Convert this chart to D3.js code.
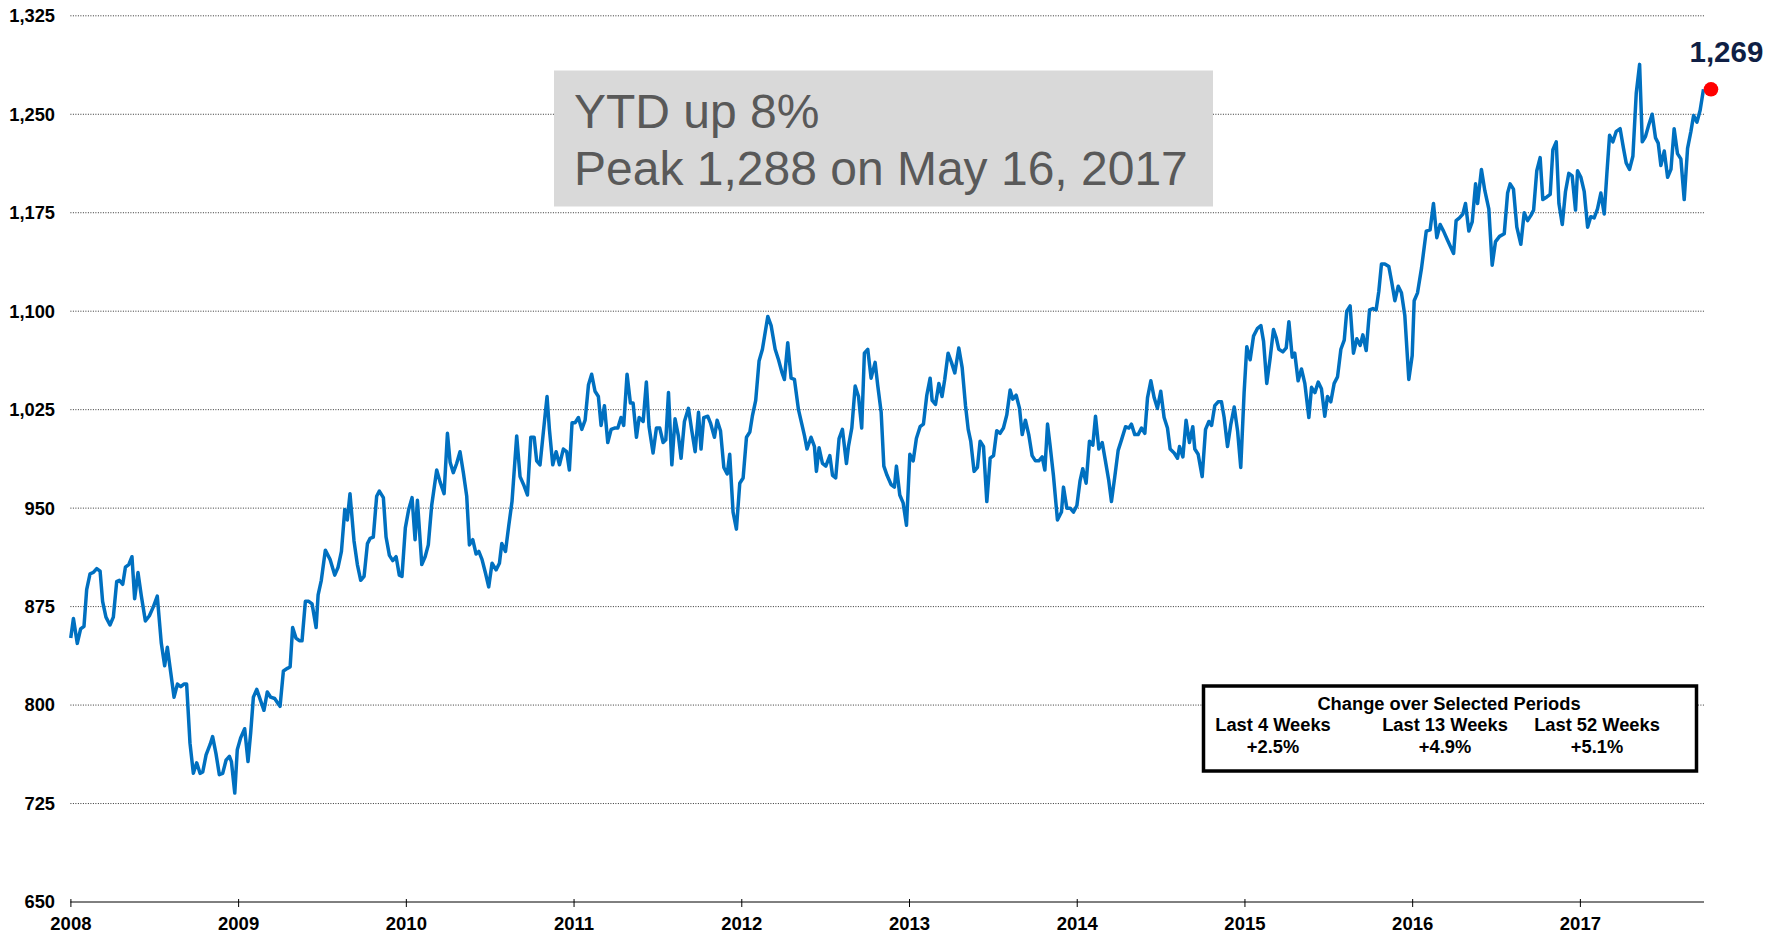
<!DOCTYPE html>
<html><head><meta charset="utf-8">
<script src="https://cdn.jsdelivr.net/npm/d3@7"></script>
<style>body{margin:0;background:#fff}svg{display:block}</style>
</head><body><svg id="c" width="1781" height="935"></svg>
<script>
// years elapsed since the start of 2008 (weekly observations)
const yearOffset = [
0.002,0.018,0.041,0.061,0.081,0.097,0.117,0.137,0.157,0.177,0.192,0.212,0.236,0.256,0.276,0.292,0.312,0.328,0.348,0.367,0.383,0.403,0.423,0.447,0.471,0.495,0.518,0.542,0.562,0.578,0.598,0.618,0.638,0.658,0.677,0.693,0.713,0.733,0.753,0.773,0.789,0.809,0.833,0.848,0.868,0.888,0.908,0.928,0.948,0.960,0.980,
0.995,1.015,1.039,1.059,1.075,1.091,1.111,1.135,1.154,1.174,1.194,1.218,1.234,1.250,1.270,1.294,1.310,1.325,1.345,1.365,1.381,1.401,1.421,1.441,1.465,1.477,1.496,1.520,1.548,1.576,1.596,1.616,1.636,1.651,1.667,1.691,1.711,1.731,1.751,1.771,1.787,1.806,1.826,1.842,1.866,1.882,1.902,1.922,1.942,1.961,1.977,1.997,2.017,2.037,
2.055,2.069,2.095,2.115,2.134,2.154,2.184,2.204,2.228,2.248,2.264,2.283,2.303,2.323,2.343,2.363,2.379,2.399,2.419,2.435,2.454,2.474,2.494,2.514,2.538,2.558,2.572,2.594,2.613,2.633,2.661,2.681,2.705,2.725,2.745,2.765,2.780,2.800,2.828,2.842,2.856,2.876,2.896,2.916,2.939,2.959,2.975,2.991,
3.009,3.029,3.049,3.069,3.089,3.108,3.128,3.148,3.164,3.184,3.204,3.224,3.244,3.264,3.283,3.299,3.319,3.339,3.355,3.375,3.391,3.415,3.434,3.450,3.474,3.494,3.514,3.534,3.550,3.566,3.586,3.605,3.625,3.641,3.661,3.685,3.705,3.725,3.745,3.760,3.776,3.800,3.816,3.840,3.856,3.876,3.896,3.916,3.931,3.951,3.971,3.991,
4.011,4.031,4.051,4.066,4.086,4.106,4.126,4.158,4.178,4.202,4.222,4.241,4.257,4.277,4.297,4.317,4.341,4.361,4.377,4.392,4.416,4.436,4.448,4.464,4.484,4.504,4.528,4.544,4.563,4.583,4.603,4.627,4.639,4.659,4.679,4.699,4.718,4.734,4.754,4.774,4.798,4.814,4.834,4.850,4.869,4.893,4.913,4.925,4.945,4.965,4.985,
5.005,5.025,5.044,5.066,5.086,5.106,5.126,5.138,5.158,5.178,5.197,5.213,5.233,5.253,5.273,5.297,5.317,5.337,5.353,5.368,5.388,5.408,5.424,5.444,5.464,5.484,5.504,5.523,5.543,5.563,5.583,5.603,5.619,5.639,5.659,5.675,5.694,5.714,5.734,5.754,5.774,5.794,5.810,5.826,5.841,5.861,5.885,5.909,5.921,5.941,5.961,5.981,
6.001,6.020,6.036,6.056,6.076,6.096,6.112,6.132,6.152,6.171,6.191,6.207,6.227,6.247,6.267,6.291,6.311,6.326,6.346,6.366,6.386,6.406,6.422,6.442,6.462,6.481,6.501,6.521,6.541,6.557,6.581,6.601,6.613,6.633,6.652,6.672,6.692,6.704,6.724,6.748,6.768,6.788,6.804,6.823,6.843,6.863,6.879,6.899,6.919,6.939,6.959,6.978,6.998,
7.014,7.034,7.054,7.078,7.098,7.114,7.133,7.153,7.173,7.189,7.205,7.229,7.249,7.265,7.285,7.300,7.320,7.340,7.360,7.384,7.400,7.420,7.440,7.459,7.479,7.495,7.515,7.535,7.555,7.575,7.595,7.610,7.630,7.650,7.670,7.690,7.706,7.726,7.746,7.766,7.785,7.801,7.817,7.837,7.861,7.877,7.897,7.917,7.936,7.956,7.980,
8.000,8.012,8.032,8.056,8.084,8.107,8.127,8.147,8.167,8.187,8.211,8.247,8.262,8.282,8.302,8.318,8.338,8.358,8.378,8.390,8.413,8.433,8.457,8.477,8.497,8.521,8.549,8.569,8.584,8.604,8.624,8.648,8.668,8.688,8.708,8.724,8.743,8.763,8.779,8.803,8.823,8.839,8.859,8.875,8.895,8.914,8.934,8.954,8.974,8.986,
9.006,9.026,9.046,9.065,9.085,9.105,9.125,9.145,9.161,9.177,9.197,9.217,9.240,9.260,9.276,9.296,9.316,9.336,9.356,9.372,9.391,9.411,9.431,9.451,9.467,9.483,9.503,9.523,9.543,9.562,9.582,9.602,9.622,9.642,9.662,9.678,9.698,9.717,9.737
];
const values = [
851,866,847,858,860,888,900,901,904,902,879,867,861,867,894,895,892,905,907,913,881,901,883,864,868,875,883,847,830,844,825,806,816,814,816,816,771,748,756,748,749,762,770,776,763,747,748,758,761,757,733,
766,775,782,757,779,806,812,803,796,810,806,805,802,799,826,828,829,859,851,849,849,879,879,877,859,884,895,918,911,899,905,917,949,941,961,925,907,895,898,923,927,928,959,963,958,928,914,910,913,899,898,935,949,958,
926,956,907,913,922,952,979,970,961,1007,985,977,984,993,977,959,922,926,915,917,911,901,890,908,903,908,923,917,936,955,1005,974,967,960,1004,1004,986,983,1018,1035,1010,983,993,983,995,993,979,1015,
1015,1019,1010,1017,1044,1052,1039,1035,1013,1028,1000,1010,1011,1011,1019,1013,1052,1030,1030,1004,1019,1016,1046,1012,992,1011,1011,1000,1002,1038,983,1018,1005,988,1016,1026,1009,993,1023,995,1019,1020,1015,1004,1017,1009,981,976,991,947,934,969,
973,1004,1008,1020,1032,1062,1071,1096,1089,1071,1063,1054,1048,1076,1049,1048,1025,1014,1005,995,1004,997,978,996,984,982,990,975,973,1003,1010,984,997,1011,1043,1035,1011,1068,1071,1049,1061,1043,1023,982,975,968,966,982,960,954,937,
991,986,1003,1012,1014,1036,1049,1032,1029,1045,1035,1048,1068,1061,1053,1072,1057,1028,1010,1001,978,981,1001,997,955,988,990,1009,1007,1011,1021,1040,1033,1036,1026,1006,1017,1006,990,986,986,989,979,1014,998,975,941,947,966,950,950,947,
952,971,980,969,1001,998,1020,995,1000,986,971,955,974,994,1002,1012,1011,1014,1006,1006,1011,1007,1034,1047,1034,1026,1039,1019,1011,995,992,988,997,989,1017,1000,1012,995,991,974,1010,1016,1013,1028,1031,1031,1019,997,1014,1027,1009,981,1038,
1073,1063,1081,1087,1089,1077,1045,1064,1086,1080,1071,1069,1072,1092,1065,1068,1047,1056,1045,1019,1042,1038,1046,1041,1020,1035,1031,1045,1050,1071,1078,1100,1104,1068,1079,1074,1082,1070,1101,1102,1101,1115,1136,1136,1134,1123,1108,1119,1114,1097,1048,
1066,1108,1114,1133,1161,1162,1182,1156,1166,1161,1154,1144,1169,1171,1174,1182,1161,1168,1197,1182,1208,1192,1178,1135,1153,1157,1159,1190,1197,1193,1164,1151,1175,1169,1173,1177,1207,1217,1185,1187,1189,1223,1229,1182,1166,1191,1205,1203,1177,1207,
1202,1191,1164,1172,1171,1178,1190,1174,1205,1234,1229,1237,1239,1224,1213,1208,1218,1266,1288,1229,1233,1242,1250,1232,1228,1211,1222,1202,1208,1239,1220,1216,1185,1224,1237,1249,1244,1253,1269
];
const startYear = 2008;
const yTicks = [650,725,800,875,950,1025,1100,1175,1250,1325];
const xTicks = [2008,2009,2010,2011,2012,2013,2014,2015,2016,2017];
const lastLabel = "1,269";
const calloutLines = ["YTD up 8%","Peak 1,288 on May 16, 2017"];
const periodTitle = "Change over Selected Periods";
const periodNames = ["Last 4 Weeks","Last 13 Weeks","Last 52 Weeks"];
const periodChanges = ["+2.5%","+4.9%","+5.1%"];

const FONT = "Arial, 'Liberation Sans', sans-serif";
const svg = d3.select("#c");
const x = d3.scaleLinear().domain([2008, 2017.74]).range([70.4, 1704]);
const y = d3.scaleLinear().domain([650, 1325]).range([902, 15.8]);
const data = yearOffset.map((t,i)=>({t:startYear+t, v:values[i]}));

// gridlines
svg.append("g").selectAll("line").data(yTicks.filter(d=>d>650)).join("line")
  .attr("x1", x(2008)).attr("x2", x.range()[1])
  .attr("y1", d=>y(d)).attr("y2", d=>y(d))
  .attr("stroke","#333").attr("stroke-width",1).attr("stroke-dasharray","1,1.5");

// y labels
svg.append("g").selectAll("text").data(yTicks).join("text")
  .attr("x", 55).attr("y", d=>y(d)).attr("dy","0.35em")
  .attr("text-anchor","end").attr("font-family",FONT).attr("font-weight","bold")
  .attr("font-size",18.3).attr("fill","#000")
  .text(d=>d3.format(",")(d));

// x axis
const xa = svg.append("g").attr("transform",`translate(0,${y(650)})`)
  .call(d3.axisBottom(x).tickValues(xTicks).tickFormat(d3.format("d")).tickSizeOuter(0).tickSize(5).tickPadding(10));
xa.select(".domain").attr("stroke","#000").attr("d",`M${x(2008)},0H${x.range()[1]}`);
xa.selectAll(".tick line").attr("stroke","#000").attr("y1",-3);
xa.selectAll(".tick text").attr("font-family",FONT).attr("font-weight","bold").attr("font-size",18.5).attr("fill","#000");

// line
svg.append("path").datum(data)
  .attr("fill","none").attr("stroke","#0070C0").attr("stroke-width",3.5)
  .attr("stroke-linejoin","round")
  .attr("d", d3.line().x(d=>x(d.t)).y(d=>y(d.v)));

// last point
const last = data[data.length-1];
svg.append("circle").attr("cx", x(last.t)+7.5).attr("cy", y(last.v)).attr("r",7.3).attr("fill","#FF0000");
svg.append("text").attr("x", x(last.t)-14).attr("y", 62)
  .attr("font-family",FONT).attr("font-weight","bold").attr("font-size",29.5).attr("fill","#0F1F45")
  .text(lastLabel);

// callout box
svg.append("rect").attr("x",554).attr("y",70.5).attr("width",659).attr("height",136).attr("fill","#D9D9D9");
svg.append("g").selectAll("text").data(calloutLines).join("text")
  .attr("x",574).attr("y",(d,i)=>128+i*57)
  .attr("font-family",FONT).attr("font-size",48).attr("fill","#595959")
  .text(d=>d);

// period box
svg.append("rect").attr("x",1203.5).attr("y",686).attr("width",493).attr("height",85)
  .attr("fill","#fff").attr("stroke","#000").attr("stroke-width",3.5);
svg.append("text").attr("x",1449).attr("y",710).attr("text-anchor","middle")
  .attr("font-family",FONT).attr("font-weight","bold").attr("font-size",18.3).text(periodTitle);
const cx = [1273,1445,1597];
svg.append("g").selectAll("text").data(periodNames).join("text")
  .attr("x",(d,i)=>cx[i]).attr("y",731).attr("text-anchor","middle")
  .attr("font-family",FONT).attr("font-weight","bold").attr("font-size",18.3).text(d=>d);
svg.append("g").selectAll("text").data(periodChanges).join("text")
  .attr("x",(d,i)=>cx[i]).attr("y",753).attr("text-anchor","middle")
  .attr("font-family",FONT).attr("font-weight","bold").attr("font-size",18.3).text(d=>d);
</script>
</body></html>
